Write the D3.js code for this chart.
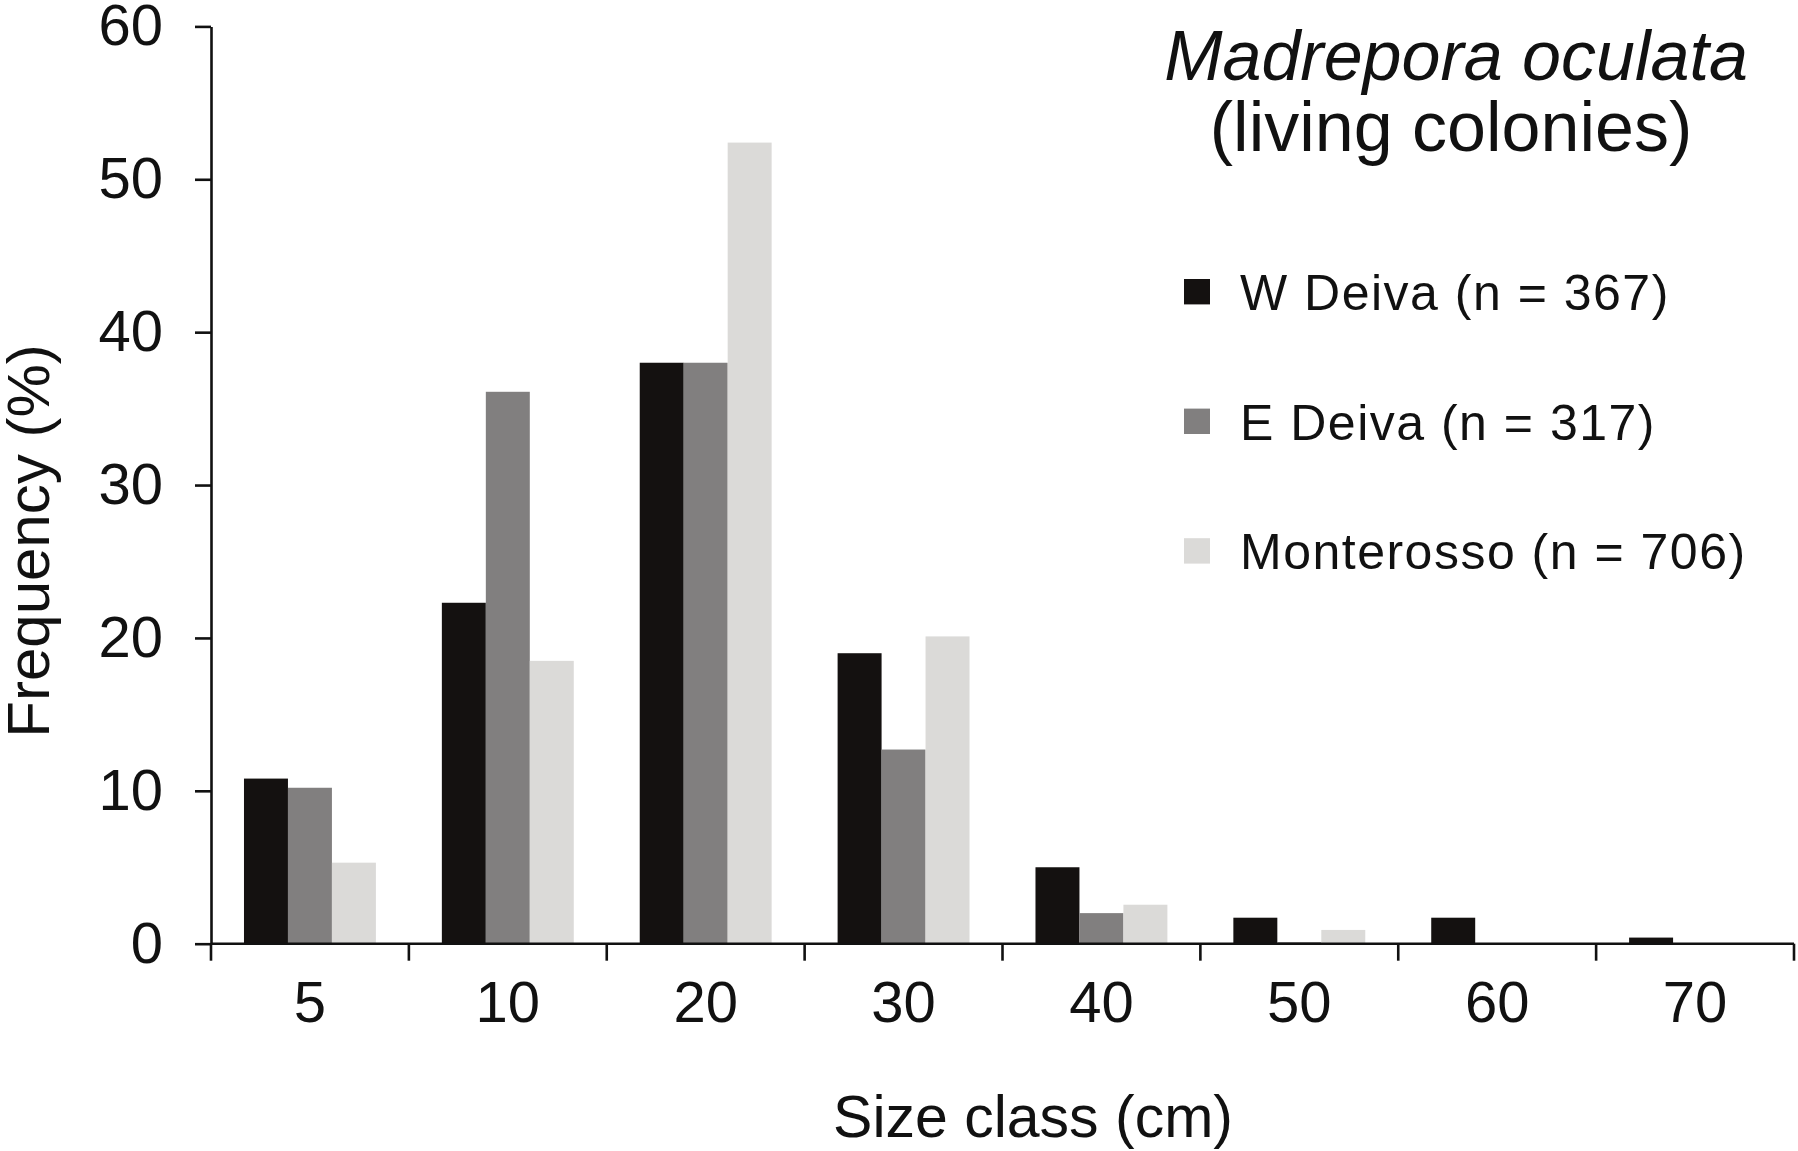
<!DOCTYPE html>
<html lang="en">
<head>
    <meta charset="UTF-8">
    <title>Madrepora oculata size classes</title>
    <script src="https://d3js.org/d3.v7.min.js"></script>
    <style>
        body { margin: 0; background: #fff; }
        text { font-family: "Liberation Sans", Arial, Helvetica, sans-serif; fill: #111; }
    </style>
</head>
<body>
    <div id="chart"></div>

    <script>
        // Data (frequency, %)
        const sizeClasses = ["5", "10", "20", "30", "40", "50", "60", "70"];
        const seriesNames = ["W Deiva (n = 367)", "E Deiva (n = 317)", "Monterosso (n = 706)"];
        const wDeiva     = [10.8, 22.3, 38.0, 19.0, 5.0, 1.7, 1.7, 0.4];
        const eDeiva     = [10.2, 36.1, 38.0, 12.7, 2.0, 0.1, 0, 0];
        const monterosso = [5.3, 18.5, 52.4, 20.1, 2.55, 0.9, 0, 0];
        const yTicks = [0, 10, 20, 30, 40, 50, 60];
        const seriesColors = ["#141110", "#817f7f", "#dbdad8"];

        const W = 1798, H = 1151;
        const margin = {left: 211, right: 1794, top: 26.4, bottom: 943.7};

        const svg = d3.select("#chart")
            .append("svg")
            .attr("width", W)
            .attr("height", H);

        // Scales
        const x0 = d3.scaleBand()
            .domain(sizeClasses)
            .range([margin.left, margin.right])
            .padding(0);

        const x1 = d3.scaleBand()
            .domain(seriesNames)
            .range([0, x0.bandwidth()])
            .paddingInner(0)
            .paddingOuter(0.75);

        const y = d3.scaleLinear()
            .domain([0, 60])
            .range([margin.bottom, margin.top]);

        const color = d3.scaleOrdinal()
            .domain(seriesNames)
            .range(seriesColors);

        const rows = sizeClasses.map((c, i) => ({
            cls: c,
            values: [wDeiva[i], eDeiva[i], monterosso[i]].map((v, j) => ({ key: seriesNames[j], value: v }))
        }));

        // Bars
        const groups = svg.selectAll(".group")
            .data(rows)
            .enter().append("g")
            .attr("class", "group")
            .attr("transform", d => `translate(${x0(d.cls)},0)`);

        groups.selectAll("rect")
            .data(d => d.values.filter(v => v.value > 0))
            .enter().append("rect")
            .attr("x", d => x1(d.key))
            .attr("y", d => y(d.value))
            .attr("width", x1.bandwidth())
            .attr("height", d => y(0) - y(d.value) + 1)
            .attr("fill", d => color(d.key));

        // Y axis
        const yAxis = svg.append("g")
            .attr("transform", `translate(${margin.left},0)`)
            .call(d3.axisLeft(y).tickValues(yTicks).tickSizeInner(16).tickSizeOuter(0).tickPadding(32));
        yAxis.selectAll("text").style("font-size", "58px");

        // X axis: labels centred in each class, ticks on the class boundaries
        const xAxis = svg.append("g")
            .attr("transform", `translate(0,${margin.bottom})`)
            .call(d3.axisBottom(x0).tickSize(0).tickPadding(37));
        xAxis.select(".domain").remove();
        xAxis.selectAll("text").style("font-size", "58px");

        const edges = sizeClasses.map(c => x0(c)).concat([x0(sizeClasses[sizeClasses.length - 1]) + x0.bandwidth()]);
        xAxis.append("line")
            .attr("x1", margin.left).attr("x2", margin.right)
            .attr("y1", 0).attr("y2", 0);
        xAxis.selectAll(".edge")
            .data(edges)
            .enter().append("line")
            .attr("class", "edge")
            .attr("x1", d => d).attr("x2", d => d)
            .attr("y1", 0).attr("y2", 17);

        svg.selectAll(".domain, .tick line, line")
            .attr("stroke", "#111")
            .attr("stroke-width", 2.6);

        // Axis titles
        svg.append("text")
            .attr("x", 1033)
            .attr("y", 1137)
            .attr("text-anchor", "middle")
            .style("font-size", "59px")
            .text("Size class (cm)");

        svg.append("text")
            .attr("transform", "translate(49,541) rotate(-90)")
            .attr("text-anchor", "middle")
            .style("font-size", "60px")
            .text("Frequency (%)");

        // Title
        svg.append("text")
            .attr("x", 1456)
            .attr("y", 80)
            .attr("text-anchor", "middle")
            .style("font-size", "70px")
            .style("font-style", "italic")
            .text("Madrepora oculata");

        svg.append("text")
            .attr("x", 1451)
            .attr("y", 151)
            .attr("text-anchor", "middle")
            .style("font-size", "70px")
            .text("(living colonies)");

        // Legend
        const legend = svg.selectAll(".legend")
            .data(seriesNames)
            .enter().append("g")
            .attr("class", "legend")
            .attr("transform", (d, i) => `translate(1184,${291.7 + i * 129.6})`);

        legend.append("rect")
            .attr("x", 0)
            .attr("y", -12.7)
            .attr("width", 26)
            .attr("height", 25.4)
            .attr("fill", d => color(d));

        legend.append("text")
            .attr("x", 56)
            .attr("y", 18.3)
            .style("font-size", "50px")
            .style("letter-spacing", "1.5px")
            .text(d => d);
    </script>
</body>
</html>
